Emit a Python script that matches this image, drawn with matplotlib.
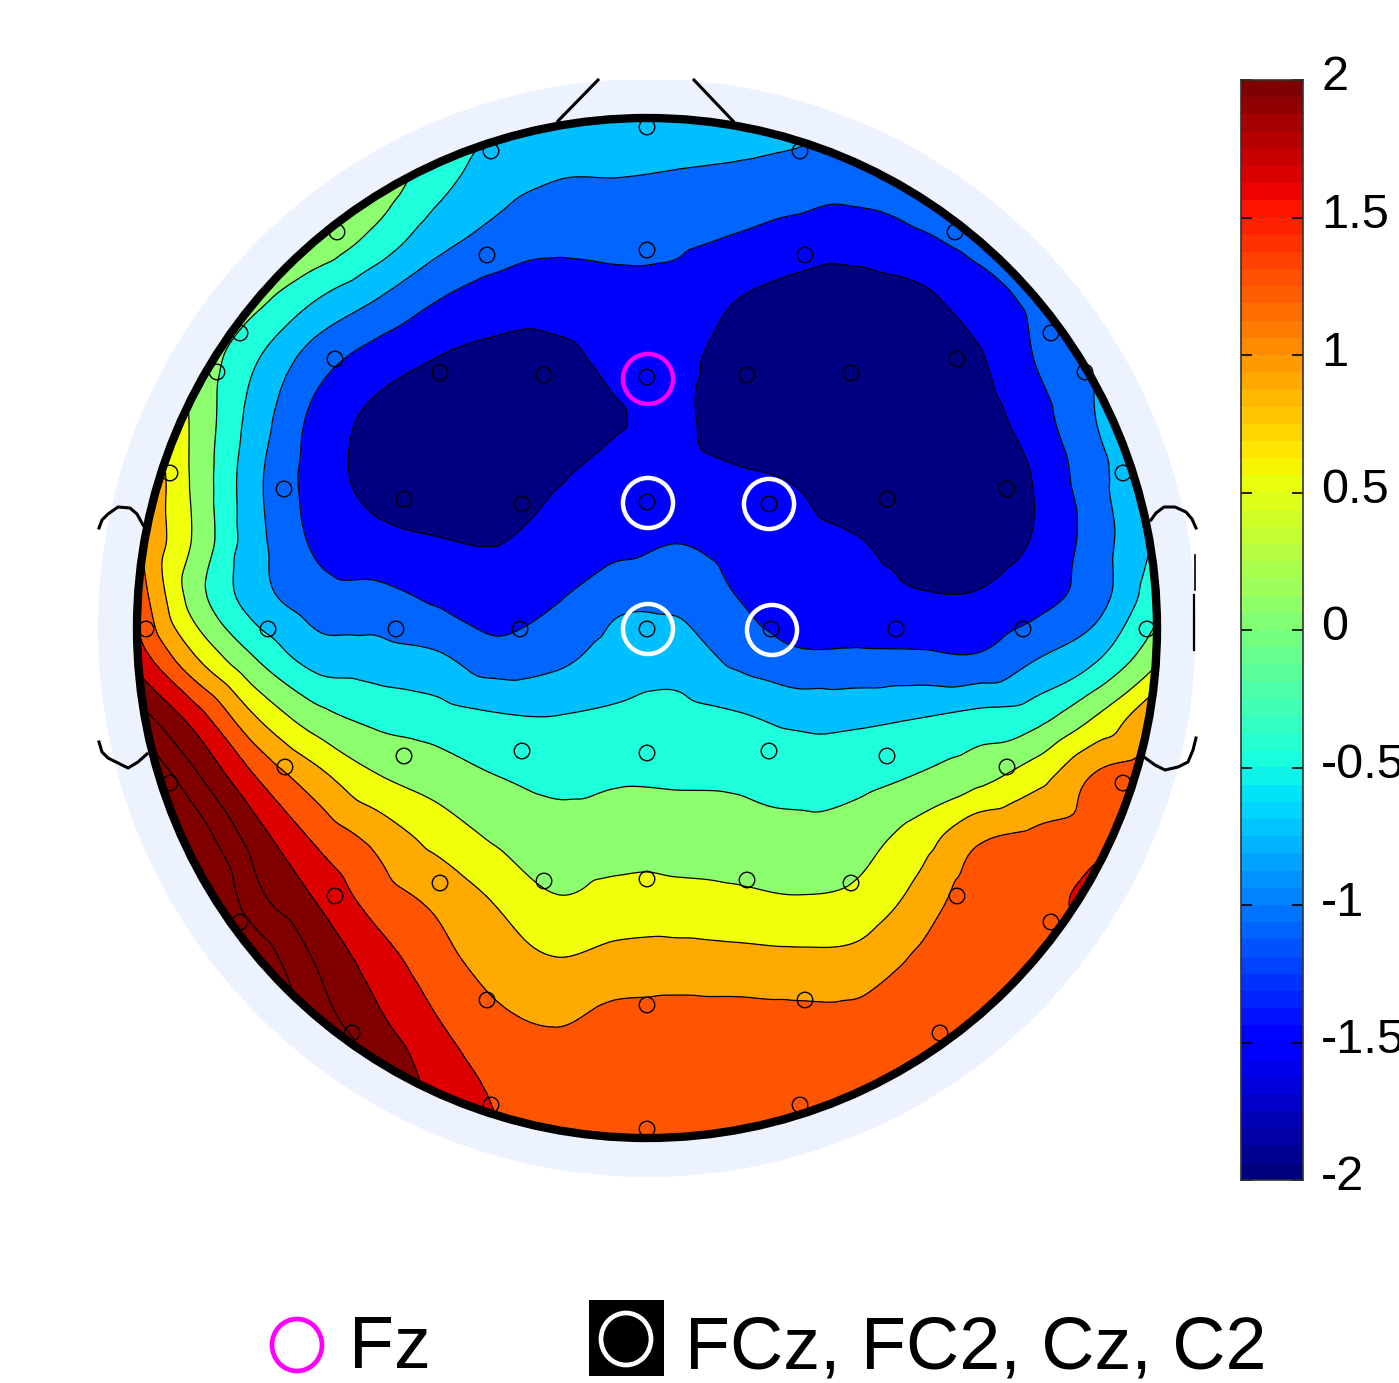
import numpy as np
import matplotlib
matplotlib.use('Agg')
import matplotlib.pyplot as plt
import matplotlib.tri as mtri
from matplotlib.patches import Circle, Rectangle, Ellipse
from matplotlib.transforms import ScaledTranslation

plt.rcParams['font.family'] = ['Liberation Sans', 'DejaVu Sans']

# sample positions of the potential map (image pixels)
grid_x = [137, 197, 257, 317, 377, 437, 497, 557, 617, 677, 737, 797, 857, 917, 977, 1037, 1097, 1157]
grid_y = [118, 178, 238, 298, 358, 418, 478, 538, 598, 658, 718, 778, 838, 898, 958, 1018, 1078, 1138]

# potential, one row per grid_y
potential = [
    [0.80, 0.70, 0.50, 0.30, 0.20, -0.20, -0.60, -0.72, -0.75, -0.75, -0.75, -0.78, -0.85, -0.85, -0.85, -0.85, -0.85, -0.85],
    [0.60, 0.40, 0.30, 0.20, 0.05, -0.40, -0.75, -0.90, -0.91, -0.94, -0.98, -1.05, -1.15, -1.00, -0.95, -0.92, -0.90, -0.85],
    [0.50, 0.40, 0.30, 0.10, -0.29, -0.76, -1.03, -1.18, -1.18, -1.20, -1.30, -1.42, -1.42, -1.33, -1.15, -1.05, -0.95, -0.90],
    [0.30, 0.20, -0.08, -0.53, -0.90, -1.25, -1.45, -1.46, -1.38, -1.38, -1.63, -1.76, -1.85, -1.72, -1.45, -1.18, -0.95, -0.85],
    [0.40, 0.05, -0.52, -1.09, -1.43, -1.64, -1.72, -1.72, -1.55, -1.55, -1.78, -1.85, -1.88, -1.85, -1.68, -1.25, -0.90, -0.75],
    [0.80, 0.08, -0.72, -1.38, -1.72, -1.78, -1.85, -1.78, -1.65, -1.60, -1.75, -1.85, -1.90, -1.88, -1.80, -1.42, -0.90, -0.70],
    [1.00, 0.07, -0.83, -1.43, -1.75, -1.82, -1.85, -1.66, -1.55, -1.55, -1.60, -1.66, -1.80, -1.88, -1.85, -1.60, -1.00, -0.65],
    [1.00, 0.10, -0.80, -1.35, -1.55, -1.63, -1.66, -1.50, -1.42, -1.30, -1.42, -1.55, -1.63, -1.75, -1.78, -1.60, -1.08, -0.50],
    [1.15, -0.03, -0.75, -1.10, -1.15, -1.33, -1.50, -1.30, -1.00, -1.00, -1.27, -1.50, -1.50, -1.60, -1.60, -1.40, -1.05, -0.30],
    [1.50, 0.55, -0.20, -0.70, -0.75, -0.85, -1.11, -1.00, -0.75, -0.70, -1.00, -1.20, -1.20, -1.20, -1.23, -0.92, -0.58, 0.10],
    [2.20, 1.45, 0.55, -0.03, -0.28, -0.38, -0.50, -0.53, -0.48, -0.42, -0.50, -0.63, -0.62, -0.55, -0.43, -0.30, 0.22, 0.90],
    [2.90, 2.06, 1.27, 0.68, 0.22, 0.02, -0.17, -0.27, -0.22, -0.23, -0.25, -0.30, -0.30, -0.15, 0.07, 0.42, 0.97, 1.20],
    [3.40, 2.60, 1.80, 1.20, 0.80, 0.42, 0.13, -0.03, 0.00, 0.03, 0.00, -0.08, 0.02, 0.35, 0.85, 1.00, 1.15, 1.65],
    [3.60, 3.00, 2.10, 1.60, 1.10, 0.82, 0.50, 0.20, 0.30, 0.28, 0.25, 0.20, 0.27, 0.65, 1.10, 1.12, 1.42, 1.60],
    [3.60, 3.20, 2.60, 1.95, 1.45, 1.05, 0.72, 0.55, 0.65, 0.68, 0.65, 0.62, 0.65, 0.95, 1.10, 1.15, 1.30, 1.50],
    [3.60, 3.40, 3.00, 2.20, 1.70, 1.28, 0.98, 0.87, 1.00, 1.02, 1.02, 1.00, 1.00, 1.10, 1.15, 1.20, 1.30, 1.30],
    [3.60, 3.40, 3.00, 2.50, 2.00, 1.50, 1.20, 1.08, 1.10, 1.12, 1.12, 1.12, 1.12, 1.15, 1.20, 1.25, 1.30, 1.30],
    [3.60, 3.40, 3.00, 2.60, 2.10, 1.60, 1.30, 1.20, 1.18, 1.18, 1.18, 1.18, 1.18, 1.20, 1.25, 1.30, 1.30, 1.30],
]

# electrode positions
elec_x = [647, 491, 800, 337, 955, 487, 647, 805, 240, 1051, 335, 440, 544, 647, 747, 851, 957, 217, 1085,
          170, 284, 404, 522, 647, 769, 887, 1007, 1123, 146, 268, 396, 520, 647, 771, 896, 1023, 1147,
          170, 285, 404, 522, 647, 769, 887, 1007, 1123, 240, 335, 440, 544, 647, 747, 851, 957, 1051,
          352, 487, 647, 805, 940, 491, 800, 647]
elec_y = [127, 151, 151, 232, 232, 255, 250, 255, 333, 333, 359, 373, 375, 377, 375, 373, 359, 372, 372,
          473, 489, 499, 504, 502, 504, 499, 489, 473, 629, 629, 629, 629, 629, 629, 629, 629, 629,
          783, 767, 756, 751, 753, 751, 756, 767, 783, 922, 896, 883, 881, 879, 880, 883, 896, 922,
          1033, 1000, 1005, 1000, 1033, 1105, 1105, 1129]

# highlighted channels
fz_x, fz_y = [648], [379]
group_x = [648, 769, 648, 772]
group_y = [503, 504, 629, 630]

# contour bands
levels = [-3, -1.636, -1.273, -0.909, -0.545, -0.182, 0.182, 0.545, 0.909, 1.273, 1.636, 2.0, 2.364, 5]
band_colors = ['#000080', '#0000FF', '#0066FF', '#00BFFF', '#1EFFDC', '#8CFF6E', '#F0FF0A',
               '#FFAA00', '#FF5500', '#DD0000', '#800000', '#800000', '#800000']
line_levels = levels[1:-1]

cbar_ticks = [2, 1.5, 1, 0.5, 0, -0.5, -1, -1.5, -2]
cbar_labels = ['2', '1.5', '1', '0.5', '0', '-0.5', '-1', '-1.5', '-2']

W, H = 1399, 1383
fig = plt.figure(figsize=(W / 100, H / 100), dpi=100)
ax = fig.add_axes([0, 0, 1, 1])
ax.set_xlim(0, W)
ax.set_ylim(H, 0)
ax.axis('off')

cx, cy, r = 647, 628, 510

# pale interpolation disc, then the map on top
disc = Circle((cx, cy), 549, fc='#EDF2FF', ec='none', zorder=1)
ax.add_patch(disc)
disc.set_clip_path(Rectangle((98, 80), 1098, 1100, transform=ax.transData))

gx, gy = np.meshgrid(grid_x, grid_y)
tri = mtri.Triangulation(gx.ravel(), gy.ravel())
interp = mtri.CubicTriInterpolator(tri, np.array(potential).ravel(), kind='geom')
fx, fy = np.meshgrid(np.arange(137, 1158, 3.0), np.arange(118, 1139, 3.0))
fz = interp(fx, fy)

clip = Circle((cx, cy), r, transform=ax.transData)
cf = ax.contourf(fx, fy, fz, levels=levels, colors=band_colors, zorder=2)
cl = ax.contour(fx, fy, fz, levels=line_levels, colors='black', linewidths=0.9,
                linestyles='solid', zorder=3)
cf.set_clip_path(clip)
cl.set_clip_path(clip)

# electrodes go under the head outline
ax.scatter(elec_x, elec_y, s=125, facecolors='none', edgecolors='black', linewidths=1.0, zorder=4)

# head outline, nose, ears
ax.add_patch(Circle((cx, cy), r, fc='none', ec='black', lw=6.0, zorder=5))
ax.plot([558, 598], [121, 80], color='black', lw=2.2, zorder=4)
ax.plot([694, 733], [80, 121], color='black', lw=2.2, zorder=4)
ax.plot([99, 102, 108, 118, 130, 137, 143], [528, 520, 514, 507, 508, 514, 525], color='black', lw=2.2, zorder=4)
ax.plot([99, 102, 108, 118, 128, 138, 147], [742, 752, 758, 763, 768, 762, 754], color='black', lw=2.2, zorder=4)
ax.plot([1151, 1156, 1164, 1175, 1186, 1192, 1196], [520, 513, 507, 507, 512, 519, 528], color='black', lw=2.2, zorder=4)
ax.plot([1144, 1155, 1165, 1178, 1188, 1193, 1196], [757, 765, 770, 767, 762, 750, 738], color='black', lw=2.2, zorder=4)
ax.plot([1195, 1195], [555, 590], color='black', lw=1.2, zorder=4)
ax.plot([1194, 1194], [595, 650], color='black', lw=1.6, zorder=4)

ax.scatter(fz_x, fz_y, s=1300, facecolors='none', edgecolors='#FF00FF', linewidths=3.2, zorder=7)
ax.scatter(group_x, group_y, s=1300, facecolors='none', edgecolors='white', linewidths=3.2, zorder=7)

# legend
ax.add_patch(Ellipse((297, 1345), 50, 52, fc='none', ec='#FF00FF', lw=3.4, zorder=7))
ax.text(349, 1368, 'Fz', fontsize=53, va='baseline', ha='left')
ax.add_patch(Rectangle((589, 1300), 75, 76, fc='black', ec='none', zorder=6))
ax.add_patch(Ellipse((626, 1339), 50, 52, fc='black', ec='white', lw=3.4, zorder=7))
ax.text(685, 1368, 'FCz, FC2, Cz, C2', fontsize=53, va='baseline', ha='left')

# colorbar
cax = fig.add_axes([1241 / W, 1 - 1180 / H, 62 / W, 1100 / H])
jet = plt.get_cmap('jet', 64)
cax.imshow(np.arange(64)[::-1].reshape(-1, 1), cmap=jet, aspect='auto', extent=[0, 1, -2, 2])
cax.set_xticks([])
cax.set_yticks(cbar_ticks)
cax.set_yticklabels(cbar_labels, fontsize=35)
cax.tick_params(axis='y', which='both', left=True, right=True, labelleft=False, labelright=True,
                direction='in', length=8, width=1.2, pad=13)
# labels sit a little above their ticks
for lab in cax.get_yticklabels():
    lab.set_transform(lab.get_transform() + ScaledTranslation(0, 0.07, fig.dpi_scale_trans))
for s in cax.spines.values():
    s.set_linewidth(1.2)
    s.set_color('#333333')

plt.savefig('out.png', dpi=100)
